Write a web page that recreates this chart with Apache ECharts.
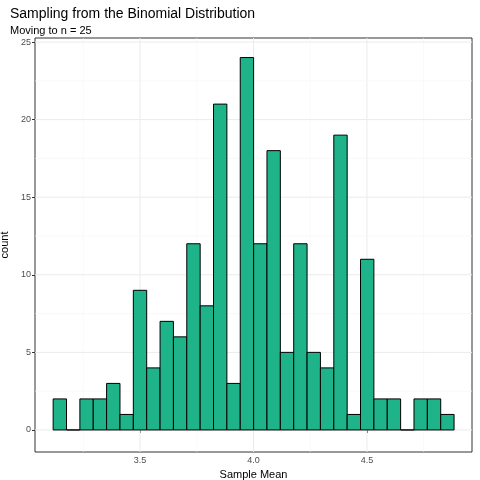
<!DOCTYPE html>
<html><head><meta charset="utf-8">
<script src="https://cdn.jsdelivr.net/npm/echarts@6/dist/echarts.min.js"></script>
<style>html,body{margin:0;padding:0;background:#fff}#c{width:480px;height:480px}</style>
</head><body><div id="c"></div>
<script>
const counts = [2,0,2,2,3,1,9,4,7,6,12,8,21,3,24,12,18,5,12,5,4,19,1,11,2,2,0,2,2,1];
const binStart = 3.117, binWidth = 0.0589;
const xTicks = [3.5, 4.0, 4.5];
const xMinor = [3.25, 3.75, 4.25, 4.75];
const yTicks = [0, 5, 10, 15, 20, 25];
const yMinor = [2.5, 7.5, 12.5, 17.5, 22.5];
const xMin = 3.037, xMax = 4.963, yMin = -1.42, yMax = 25.26;

const bars = counts.map((c, i) => [binStart + i * binWidth, binStart + (i + 1) * binWidth, c]);
const gridData = [];
xMinor.forEach(v => gridData.push(['x', v, 0.5]));
xTicks.forEach(v => gridData.push(['x', v, 1]));
yMinor.forEach(v => gridData.push(['y', v, 0.5]));
yTicks.forEach(v => gridData.push(['y', v, 1]));

const chart = echarts.init(document.getElementById('c'));
chart.setOption({
  animation: false,
  title: {
    text: 'Sampling from the Binomial Distribution',
    subtext: 'Moving to n = 25',
    left: 5, top: 2, itemGap: 4,
    textStyle: {fontFamily: 'Liberation Sans', fontSize: 14, fontWeight: 'normal', color: '#000'},
    subtextStyle: {fontFamily: 'Liberation Sans', fontSize: 11, color: '#000'}
  },
  grid: {left: 35, right: 8, top: 38, bottom: 28, containLabel: false, outerBoundsMode: 'none', show: true, borderColor: '#333', borderWidth: 1},
  xAxis: {
    type: 'value', min: xMin, max: xMax,
    name: 'Sample Mean', nameLocation: 'middle', nameGap: 17,
    nameTextStyle: {fontFamily: 'Liberation Sans', fontSize: 11, color: '#000'},
    axisLine: {show: false}, splitLine: {show: false},
    axisTick: {show: true, customValues: xTicks, length: 3, lineStyle: {color: '#333'}},
    axisLabel: {customValues: xTicks, formatter: v => v.toFixed(1), fontFamily: 'Liberation Sans', fontSize: 9, color: '#4d4d4d', margin: 4}
  },
  yAxis: {
    type: 'value', min: yMin, max: yMax,
    name: 'count', nameLocation: 'middle', nameGap: 24,
    nameTextStyle: {fontFamily: 'Liberation Sans', fontSize: 11, color: '#000'},
    axisLine: {show: false}, splitLine: {show: false},
    axisTick: {show: true, customValues: yTicks, length: 3, lineStyle: {color: '#333'}},
    axisLabel: {customValues: yTicks, fontFamily: 'Liberation Sans', fontSize: 9, color: '#4d4d4d', margin: 4}
  },
  series: [
    {
      type: 'custom', data: gridData, silent: true, z: 1,
      renderItem: (params, api) => {
        const axis = api.value(0) === 'x' ? 'x' : 'y';
        const v = api.value(1), w = api.value(2);
        let p1, p2;
        if (axis === 'x') { p1 = api.coord([v, yMin]); p2 = api.coord([v, yMax]); }
        else { p1 = api.coord([xMin, v]); p2 = api.coord([xMax, v]); }
        return {type: 'line', shape: {x1: p1[0], y1: p1[1], x2: p2[0], y2: p2[1]},
          style: {stroke: w === 1 ? '#ebebeb' : '#f5f5f5', lineWidth: w === 1 ? 1 : 0.6}};
      },
      encode: {x: 1, y: 2}
    },
    {
      type: 'custom', data: bars, z: 2,
      renderItem: (params, api) => {
        const a = api.coord([api.value(0), 0]);
        const b = api.coord([api.value(1), api.value(2)]);
        return {type: 'rect', shape: {x: a[0], y: b[1], width: b[0] - a[0], height: a[1] - b[1]},
          style: {fill: '#1fb38a', stroke: '#000', lineWidth: 1}};
      },
      encode: {x: [0, 1], y: 2}
    }
  ]
});
</script></body></html>
